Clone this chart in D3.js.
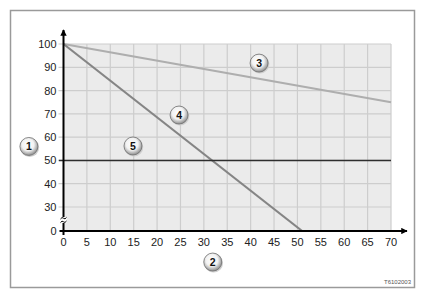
<!DOCTYPE html>
<html>
<head>
<meta charset="utf-8">
<script src="https://cdn.jsdelivr.net/npm/d3@7"></script>
<style>
  body { margin: 0; background: #fff; }
  text { font-family: "Liberation Sans", Arial, sans-serif; }
</style>
</head>
<body>
<div id="chart"></div>
<script>
// data
var xTicks = [0, 5, 10, 15, 20, 25, 30, 35, 40, 45, 50, 55, 60, 65, 70];
var yTicks = [0, 30, 40, 50, 60, 70, 80, 90, 100];
var line3 = [[0, 100], [70, 75]];
var line4 = [[0, 100], [51, 0]];
var line5 = [[0, 50], [70, 50]];
var badgeLabels = ["1", "2", "3", "4", "5"];
var badgeSpots = [[-7.4, 56], [31.9, -13.3], [41.8, 91.8], [24.7, 69.5], [14.85, 56.2]]; // in data units (x, y)

var svgWidth = 425, svgHeight = 299;

var svg = d3.select("#chart")
  .append("svg")
  .attr("width", svgWidth)
  .attr("height", svgHeight);

// y axis is broken between 0 and 30
var xScale = d3.scaleLinear().domain([0, 70]).range([63.5, 391]);
var yScale = d3.scaleLinear().domain([-30, 0, 30, 100]).range([301, 231, 207, 44]);

// frame
svg.append("rect")
  .attr("x", 10.5).attr("y", 10.5)
  .attr("width", 404).attr("height", 277)
  .attr("fill", "#fff")
  .attr("stroke", "#9a9a9a")
  .attr("stroke-width", 1.5);

// plot background
svg.append("rect")
  .attr("x", xScale(0)).attr("y", yScale(100))
  .attr("width", xScale(70) - xScale(0))
  .attr("height", yScale(0) - yScale(100))
  .attr("fill", "#ebebeb");

// grid
var grid = svg.append("g").attr("stroke", "#cdcdcd").attr("stroke-width", 1.2);
grid.selectAll(".v").data(xTicks.slice(1)).enter().append("line")
  .attr("x1", d => xScale(d)).attr("x2", d => xScale(d))
  .attr("y1", yScale(100)).attr("y2", yScale(0));
grid.selectAll(".h").data(yTicks.slice(1)).enter().append("line")
  .attr("x1", xScale(0) - 5).attr("x2", xScale(70))
  .attr("y1", d => yScale(d)).attr("y2", d => yScale(d));

// series lines
var line = d3.line().x(d => xScale(d[0])).y(d => yScale(d[1]));
svg.append("path").datum(line3).attr("d", line)
  .attr("fill", "none").attr("stroke", "#aeaeae").attr("stroke-width", 2.2);
svg.append("path").datum(line4).attr("d", line)
  .attr("fill", "none").attr("stroke", "#858585").attr("stroke-width", 2.2);
svg.append("path").datum([[line5[0][0] - 1, 50], line5[1]]).attr("d", line)
  .attr("fill", "none").attr("stroke", "#2e2e2e").attr("stroke-width", 1.6);

// axes
svg.append("defs").append("marker")
  .attr("id", "arrow")
  .attr("viewBox", "0 0 10 10")
  .attr("refX", 9).attr("refY", 5)
  .attr("markerWidth", 4).attr("markerHeight", 3.2)
  .attr("markerUnits", "strokeWidth")
  .attr("orient", "auto")
  .append("path").attr("d", "M0,0L10,5L0,10z").attr("fill", "#000");

svg.append("line")
  .attr("x1", xScale(0) - 4).attr("x2", 407)
  .attr("y1", yScale(0)).attr("y2", yScale(0))
  .attr("stroke", "#000").attr("stroke-width", 2)
  .attr("marker-end", "url(#arrow)");
svg.append("line")
  .attr("x1", xScale(0)).attr("x2", xScale(0))
  .attr("y1", yScale(0) + 4).attr("y2", 30)
  .attr("stroke", "#000").attr("stroke-width", 2)
  .attr("marker-end", "url(#arrow)");

// axis break mark
var yb = (yScale(0) + yScale(30)) / 2 + 1;
svg.append("rect").attr("x", xScale(0) - 3).attr("y", yb - 3)
  .attr("width", 6).attr("height", 6).attr("fill", "#fff");
[-1.8, 1.8].forEach(function(o) {
  svg.append("path")
    .attr("d", `M${xScale(0) - 3},${yb + o + 0.8} q1.5,-2.5 3,-0.8 t3,-0.8`)
    .attr("fill", "none").attr("stroke", "#000").attr("stroke-width", 1);
});

// tick labels
svg.selectAll(".xl").data(xTicks).enter().append("text")
  .attr("x", d => xScale(d)).attr("y", yScale(0) + 15)
  .attr("text-anchor", "middle")
  .attr("font-size", 11).attr("fill", "#222")
  .text(d => d);
svg.selectAll(".yl").data(yTicks).enter().append("text")
  .attr("x", xScale(0) - 7).attr("y", d => yScale(d) + 4)
  .attr("text-anchor", "end")
  .attr("font-size", 11).attr("fill", "#222")
  .text(d => d);

// badges
var grad = svg.select("defs").append("radialGradient")
  .attr("id", "badge").attr("cx", "45%").attr("cy", "40%").attr("r", "60%");
grad.append("stop").attr("offset", "0%").attr("stop-color", "#ffffff");
grad.append("stop").attr("offset", "55%").attr("stop-color", "#f2f2f2");
grad.append("stop").attr("offset", "100%").attr("stop-color", "#8c8c8c");

var badges = svg.selectAll(".badge").data(badgeLabels).enter().append("g")
  .attr("transform", (d, i) => `translate(${xScale(badgeSpots[i][0])}, ${yScale(badgeSpots[i][1])})`);
badges.append("circle").attr("r", 9.5).attr("cx", 0.8).attr("cy", 1)
  .attr("fill", "#cfcfcf");
badges.append("circle").attr("r", 9)
  .attr("fill", "url(#badge)")
  .attr("stroke", "#707070").attr("stroke-width", 0.8);
badges.append("text")
  .attr("y", 3.8).attr("text-anchor", "middle")
  .attr("font-size", 10.5).attr("font-weight", "bold").attr("fill", "#111")
  .text(d => d);

// picture number
svg.append("text")
  .attr("x", 411).attr("y", 284)
  .attr("text-anchor", "end")
  .attr("font-size", 6).attr("fill", "#555")
  .text("T6102003");
</script>
</body>
</html>
